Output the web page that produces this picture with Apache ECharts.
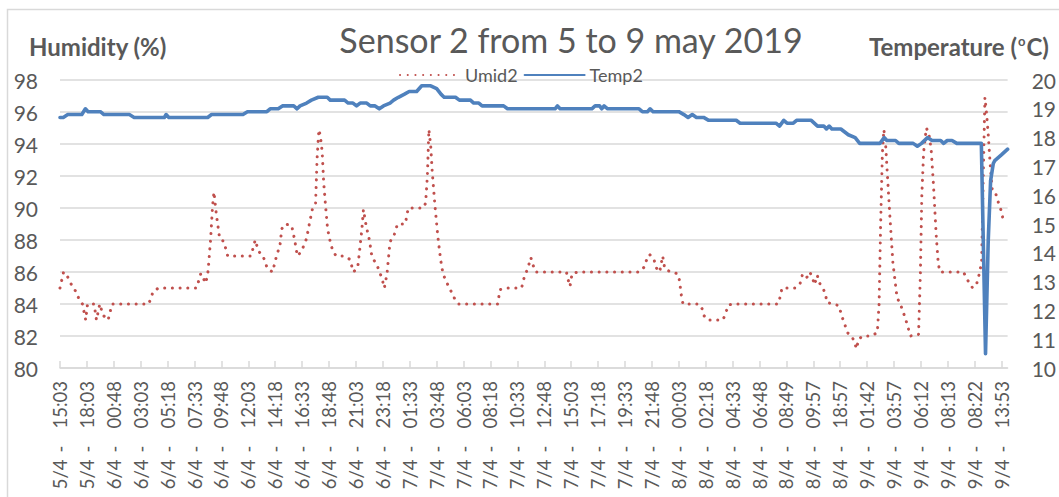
<!DOCTYPE html>
<html>
<head>
<meta charset="utf-8">
<script src="https://cdn.jsdelivr.net/npm/echarts@6/dist/echarts.min.js"></script>
<style>
  html, body { margin: 0; padding: 0; background: #fff; }
  #chart { width: 1059px; height: 497px; }
</style>
</head>
<body>
<div id="chart"></div>
<script>
// one label every 9 samples
const tickLabels = [
  '5/4 - 15:03', '5/4 - 18:03', '6/4 - 00:48', '6/4 - 03:03', '6/4 - 05:18', '6/4 - 07:33',
  '6/4 - 09:48', '6/4 - 12:03', '6/4 - 14:18', '6/4 - 16:33', '6/4 - 18:48', '6/4 - 21:03',
  '6/4 - 23:18', '7/4 - 01:33', '7/4 - 03:48', '7/4 - 06:03', '7/4 - 08:18', '7/4 - 10:33',
  '7/4 - 12:48', '7/4 - 15:03', '7/4 - 17:18', '7/4 - 19:33', '7/4 - 21:48', '8/4 - 00:03',
  '8/4 - 02:18', '8/4 - 04:33', '8/4 - 06:48', '8/4 - 08:49', '8/4 - 09:57', '8/4 - 18:57',
  '9/4 - 01:42', '9/4 - 03:57', '9/4 - 06:12', '9/4 - 08:13', '9/4 - 08:22', '9/4 - 13:53'
];
const samplesPerLabel = 9;
const lastSample = 317;

// [sample index, humidity %]
const umid2 = [
  [0,85],[1.2,86],[2.3,85.8],[3.3,85.4],[4.4,85],[5.7,84.7],[6.3,84.3],[7.5,84],[8.6,83],[9.2,84],
  [11.4,84],[12.2,83],[13.3,84],[14.4,83.3],[16.1,83],[17.4,84],[29.7,84],[31.2,84.8],[33,85],[45.7,85],
  [47.1,85.9],[47.6,85.8],[48.6,85.3],[49.3,85.7],[49.6,86.2],[50.4,88.1],[51,90],[51.5,91],[52.3,89.6],[53.4,88.1],
  [54.8,87.9],[56.1,87],[63.9,87],[65.3,88],[66.4,87.3],[67.9,87],[69.4,86.2],[71.1,86],[72.3,86.9],[73.6,87.7],
  [74.2,88.7],[75.3,89],[77.5,88.9],[78.5,88],[79.4,87],[80.8,87.3],[82.5,88.1],[83.4,89],[84.5,90],[85.5,90.3],
  [86,93.1],[86.6,94.9],[87.1,94.5],[87.7,93.5],[88.2,91.6],[88.8,90.2],[89.5,88.7],[90.5,87.8],[91.3,87.3],[92.4,87],
  [95,87],[96.9,86.8],[98.2,86],[99.6,86.3],[100.2,87.3],[101,88.7],[101.5,89.9],[102.4,88.9],[103.5,88],[104.3,87],
  [106.3,86.3],[107.7,85.6],[108.5,85],[109.4,85.9],[110.4,87.9],[111.6,88.2],[112.9,89],[115.5,89],[116.5,90],[121.5,90],
  [122.3,90.3],[122.9,92],[123.4,94.9],[124,93.9],[124.5,92.3],[125.4,90.2],[126.4,88.2],[127.3,86.8],[128.1,85.9],[129.2,85.4],
  [130.3,85],[132.1,84.3],[133.4,84],[146.4,84],[147.2,84.9],[149.4,85],[154.4,85],[155.2,85.6],[156.6,86.3],[157.5,86.9],
  [158.3,86.4],[159.1,86],[169.4,86],[170,85.5],[170.6,85.1],[171.3,85.9],[173.3,86],[193.7,86],[195.4,86.3],[196.1,86.7],
  [197.2,87.1],[198.7,86.8],[199.3,86.3],[200.6,86],[201.1,86.5],[201.6,87],[202.3,86.2],[204.3,86],[206.5,85.9],[207.2,85.5],
  [207.8,84.6],[208.4,84],[213.7,84],[214.8,83.7],[215.3,83.3],[216.6,83],[221.7,83],[222.7,83.4],[223.4,83.9],[224.7,84],
  [240.2,84],[241,84.5],[241.5,85],[246.1,85],[247.6,85.3],[248.3,85.8],[248.9,85.8],[249.4,85.6],[250,85.7],[250.8,86],
  [251.6,85.7],[252.4,85.2],[253.3,85.8],[254.1,85.3],[255.2,85],[256.1,84.6],[256.5,84.1],[258.5,84],[260.5,83.9],[261.8,83.1],
  [263.5,82.2],[265.1,81.9],[266.5,81.2],[267.1,81.8],[268.6,82],[271.2,82],[273.4,82.2],[274,84],[274.5,88.8],[275.1,93.4],
  [275.6,94.9],[276.2,93.9],[276.7,92.3],[277.5,89.8],[278.6,86.6],[280,84.4],[281.1,84],[282.8,83.1],[284.5,82],[287.2,82.1],
  [287.8,85.8],[288.3,90.8],[288.9,93.5],[289.8,95],[290.6,94.7],[291.4,93.7],[292.2,91.4],[293.1,88.3],[293.8,86.5],[294.4,86],
  [302.2,86],[303.9,85.4],[305.3,85],[306.7,85.3],[307.4,85.8],[308.3,86.6],[308.9,92.5],[309.4,96.9],[310,95.8],[310.5,94.6],
  [311.1,92.9],[311.8,91.2],[312.7,91.1],[313.8,90.4],[314.9,89.8],[315.8,89]
];

// [sample index, temperature °C]
const temp2 = [
  [0,18.7],[1.1,18.7],[2.6,18.8],[7.3,18.8],[8.5,19],[9.4,18.9],[13.5,18.9],[14.7,18.8],[23.2,18.8],[24.8,18.7],
  [34.9,18.7],[35.5,18.8],[36.4,18.7],[49.4,18.7],[50.7,18.8],[61.2,18.8],[62.7,18.9],[69.2,18.9],[70.3,19],[73,19],
  [74.4,19.1],[78.2,19.1],[79.3,19],[80.3,19.1],[82.5,19.2],[84.1,19.3],[86.4,19.4],[89.4,19.4],[90.4,19.3],[95.2,19.3],
  [96.4,19.2],[98,19.2],[99.2,19.1],[100.4,19.2],[102.6,19.2],[103.8,19.1],[105.4,19.1],[106.8,19],[108.2,19.1],[110.4,19.2],
  [111.6,19.3],[113.2,19.4],[115.1,19.5],[116.8,19.6],[119.3,19.6],[121,19.8],[122.5,19.8],[124,19.8],[126,19.7],[127.5,19.5],
  [128.5,19.4],[132.3,19.4],[133.6,19.3],[137.3,19.3],[138.4,19.2],[140.1,19.2],[141.2,19.1],[148.4,19.1],[149.7,19],[165.6,19],
  [166.4,19.1],[167.3,19],[177.9,19],[179,19.1],[180.5,19.1],[181.2,19],[182,19.1],[183.2,19],[193.7,19],[194.8,18.9],
  [196.5,18.9],[197.4,19],[198.4,18.9],[207,18.9],[208.7,18.8],[210.1,18.7],[211.5,18.8],[212.9,18.7],[215.3,18.7],[217,18.6],
  [226.2,18.6],[227.5,18.5],[239.5,18.5],[240.7,18.4],[242.1,18.6],[243.2,18.5],[245.3,18.5],[246.4,18.6],[251.3,18.6],[253.4,18.4],
  [255.5,18.4],[256.4,18.3],[257.3,18.4],[258.2,18.3],[261.2,18.3],[263.7,18.1],[266,18],[267.5,17.8],[274.3,17.8],[275.7,18],
  [276.6,17.9],[279.5,17.9],[280.6,17.8],[285.4,17.8],[286.8,17.7],[288.2,17.8],[290.2,18],[291.7,17.9],[294.6,17.9],[295.6,17.8],
  [296.8,17.9],[298.4,17.9],[300,17.8],[308.2,17.8],[309.6,10.5],[310.5,14.4],[311.3,16.5],[312.2,17.1],[312.7,17.2],[314.9,17.4],
  [317,17.6]
];

const font = 'Lato';
const grey = '#595959';
const gridGrey = '#d9d9d9';
const tickValues = tickLabels.map((_, i) => i * samplesPerLabel);

// "5/4 - 15:03" -> date, dash and time, spaced out as Excel draws them
function xLabel(v) {
  if (v % samplesPerLabel !== 0) return '';
  const s = tickLabels[v / samplesPerLabel];
  if (!s) return '';
  const parts = s.split(' - ');
  return '{d|' + parts[0] + '}{h|-}{t|' + parts[1] + '}';
}

const chart = echarts.init(document.getElementById('chart'), null, { renderer: 'svg' });

chart.setOption({
  animation: false,
  backgroundColor: '#fff',
  grid: { left: 60, right: 46, top: 80, bottom: 129 },
  legend: {
    left: 394, top: 61,
    itemWidth: 60, itemHeight: 14, itemGap: 6,
    itemStyle: { opacity: 0 },
    textStyle: { fontFamily: font, fontSize: 18, color: grey },
    data: ['Umid2', 'Temp2']
  },
  xAxis: {
    type: 'value',
    min: 0, max: lastSample, interval: samplesPerLabel,
    splitLine: { show: false },
    axisLine: { show: true, lineStyle: { color: gridGrey, width: 1.5 } },
    axisTick: { show: true, inside: true, length: 7, customValues: tickValues, lineStyle: { color: gridGrey, width: 1.5 } },
    axisLabel: {
      rotate: 90, margin: 13, fontFamily: font, fontSize: 18.5, color: grey,
      customValues: tickValues,
      formatter: xLabel,
      rich: {
        d: { fontFamily: font, fontSize: 18.5, color: grey },
        h: { fontFamily: font, fontSize: 18.5, color: grey, padding: [0, 17, 0, 7] },
        t: { fontFamily: font, fontSize: 18.5, color: grey }
      }
    }
  },
  yAxis: [{
    type: 'value', min: 80, max: 98, interval: 2,
    axisLine: { show: false }, axisTick: { show: false },
    splitLine: { lineStyle: { color: gridGrey, width: 1.5 } },
    axisLabel: { margin: 22, fontFamily: font, fontSize: 21, color: grey }
  }, {
    type: 'value', min: 10, max: 20, interval: 1,
    axisLine: { show: false }, axisTick: { show: false },
    splitLine: { show: false },
    axisLabel: { margin: 24, fontFamily: font, fontSize: 21, color: grey }
  }],
  series: [{
    name: 'Umid2', type: 'line', yAxisIndex: 0, data: umid2,
    symbol: 'none', showSymbol: false, z: 2,
    itemStyle: { color: '#C0504D' },
    lineStyle: { color: '#C0504D', width: 3, type: [0.1, 7.6], cap: 'round' }
  }, {
    name: 'Temp2', type: 'line', yAxisIndex: 1, data: temp2,
    symbol: 'none', showSymbol: false, z: 3,
    itemStyle: { color: '#4F81BD' },
    lineStyle: { color: '#4F81BD', width: 3.6, join: 'round', cap: 'round' }
  }],
  graphic: [{
    type: 'rect', silent: true, z: -1,
    shape: { x: 7.5, y: 9.5, width: 1200, height: 800 },
    style: { fill: 'none', stroke: gridGrey, lineWidth: 1.5 }
  }, {
    type: 'text', x: 571, y: 39,
    style: {
      text: 'Sensor 2 from 5 to 9 may 2019', fill: grey,
      font: '34px Lato', align: 'center', verticalAlign: 'middle',
      textAlign: 'center', textVerticalAlign: 'middle'
    }
  }, {
    type: 'text', x: 29, y: 46,
    style: {
      text: 'Humidity (%)', fill: grey,
      font: 'bold 24px Lato', align: 'left', verticalAlign: 'middle',
      textAlign: 'left', textVerticalAlign: 'middle'
    }
  }, {
    type: 'text', x: 869, y: 46,
    style: {
      text: 'Temperature ({sup|o}C)', fill: grey,
      font: 'bold 24px Lato', align: 'left', verticalAlign: 'middle',
      textAlign: 'left', textVerticalAlign: 'middle',
      rich: { sup: { font: 'bold 13px Lato', fill: grey, verticalAlign: 'top', padding: [0, 1, 0, 1] } }
    }
  }]
});
</script>
</body>
</html>
